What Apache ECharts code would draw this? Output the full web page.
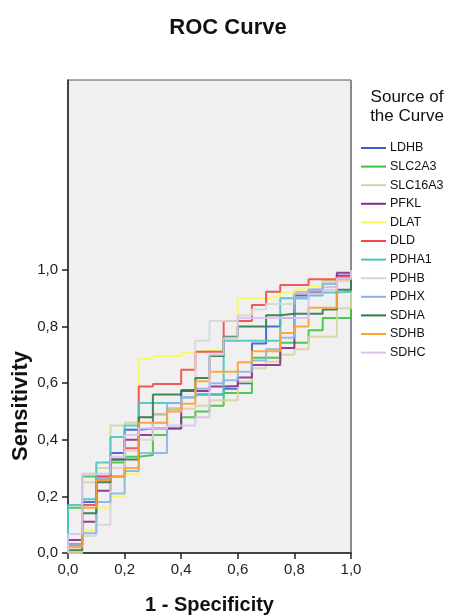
<!DOCTYPE html>
<html>
<head>
<meta charset="utf-8">
<script src="https://cdn.jsdelivr.net/npm/echarts@6/dist/echarts.min.js"></script>
<style>
  html, body { margin: 0; padding: 0; background: #fff; }
  #chart { width: 456px; height: 615px; }
</style>
</head>
<body>
<div id="chart"></div>
<script>
// False-positive-rate breakpoints: the curve holds each sensitivity level
// over one interval [FPR[k], FPR[k+1]].
const FPR = [0, 0.05, 0.10, 0.15, 0.20, 0.25, 0.30, 0.35, 0.40, 0.45,
             0.50, 0.55, 0.60, 0.65, 0.70, 0.75, 0.80, 0.85, 0.90, 0.95, 1.0];

// Sensitivity held on each FPR interval, per marker
const LDHB    = [0.03, 0.18, 0.26, 0.353, 0.435, 0.44, 0.49, 0.51, 0.55, 0.56, 0.56, 0.58, 0.60, 0.74, 0.80, 0.83, 0.91, 0.93, 0.96, 0.98];
const SLC2A3  = [0.16, 0.27, 0.27, 0.32, 0.34, 0.346, 0.417, 0.44, 0.48, 0.50, 0.52, 0.565, 0.565, 0.69, 0.69, 0.743, 0.743, 0.787, 0.83, 0.83];
const SLC16A3 = [0.00, 0.25, 0.30, 0.45, 0.46, 0.48, 0.49, 0.51, 0.51, 0.52, 0.54, 0.54, 0.605, 0.653, 0.676, 0.70, 0.72, 0.764, 0.764, 0.865];
const PFKL    = [0.046, 0.11, 0.22, 0.33, 0.40, 0.417, 0.44, 0.44, 0.572, 0.572, 0.588, 0.59, 0.62, 0.664, 0.664, 0.724, 0.92, 0.92, 0.94, 0.99];
const DLAT    = [0.01, 0.08, 0.16, 0.20, 0.28, 0.686, 0.696, 0.696, 0.708, 0.715, 0.72, 0.756, 0.90, 0.90, 0.905, 0.92, 0.93, 0.943, 0.96, 0.97];
const DLD     = [0.03, 0.17, 0.27, 0.27, 0.37, 0.588, 0.597, 0.597, 0.647, 0.711, 0.711, 0.82, 0.82, 0.876, 0.923, 0.947, 0.947, 0.967, 0.967, 0.975];
const PDHA1   = [0.17, 0.19, 0.32, 0.41, 0.45, 0.53, 0.53, 0.53, 0.55, 0.56, 0.56, 0.75, 0.75, 0.75, 0.75, 0.90, 0.90, 0.91, 0.92, 0.923];
const PDHB    = [0.02, 0.06, 0.10, 0.30, 0.36, 0.40, 0.46, 0.50, 0.55, 0.75, 0.82, 0.82, 0.84, 0.86, 0.88, 0.88, 0.92, 0.93, 0.94, 0.96];
const PDHX    = [0.03, 0.07, 0.18, 0.21, 0.29, 0.353, 0.353, 0.53, 0.55, 0.58, 0.60, 0.61, 0.64, 0.68, 0.72, 0.76, 0.90, 0.93, 0.95, 0.97];
const SDHA    = [0.01, 0.14, 0.25, 0.33, 0.33, 0.48, 0.56, 0.56, 0.576, 0.618, 0.696, 0.764, 0.80, 0.80, 0.84, 0.845, 0.845, 0.845, 0.86, 0.93];
const SDHB    = [0.02, 0.16, 0.258, 0.27, 0.30, 0.46, 0.46, 0.50, 0.527, 0.607, 0.64, 0.64, 0.674, 0.713, 0.713, 0.777, 0.80, 0.866, 0.866, 0.967];
const SDHC    = [0.067, 0.28, 0.28, 0.34, 0.417, 0.44, 0.44, 0.45, 0.45, 0.48, 0.70, 0.76, 0.83, 0.83, 0.83, 0.83, 0.83, 0.917, 0.93, 0.97];

const NAMES  = ['LDHB', 'SLC2A3', 'SLC16A3', 'PFKL', 'DLAT', 'DLD', 'PDHA1', 'PDHB', 'PDHX', 'SDHA', 'SDHB', 'SDHC'];
const LEVELS = [LDHB, SLC2A3, SLC16A3, PFKL, DLAT, DLD, PDHA1, PDHB, PDHX, SDHA, SDHB, SDHC];
const COLORS = ['#3c5dc4', '#3cc43c', '#d8d2a2', '#8b2a8b', '#f8f85c', '#f04848',
                '#44c8c0', '#d6d6d6', '#88b4e4', '#2f7a4a', '#ffa030', '#dcc0f4'];

const Y_TICKS = [0, 0.2, 0.4, 0.6, 0.8, 1.0];
const X_TICKS = [0, 0.2, 0.4, 0.6, 0.8, 1.0];

// Turn interval levels into the ROC staircase: (0,0) -> up -> across -> ... -> (1,1)
function staircase(levels) {
  const pts = [[0, 0]];
  for (let k = 0; k < levels.length; k++) {
    pts.push([FPR[k], levels[k]]);
    pts.push([FPR[k + 1], levels[k]]);
  }
  pts.push([1, 1]);
  return pts;
}

const fmt = v => v.toFixed(1).replace('.', ',');
const FONT = 'Liberation Sans, Arial, sans-serif';

const chart = echarts.init(document.getElementById('chart'));
chart.setOption({
  animation: false,
  backgroundColor: '#ffffff',
  title: {
    text: 'ROC Curve',
    left: 'center',
    top: 12,
    textStyle: { fontFamily: FONT, fontSize: 22, fontWeight: 'bold', color: '#111' }
  },
  grid: {
    left: 68, right: 105, top: 80, bottom: 62,
    outerBoundsMode: 'none',
    show: true,
    backgroundColor: '#f0f0f0',
    borderColor: '#555',
    borderWidth: 1
  },
  legend: {
    orient: 'vertical',
    left: 356,
    top: 136,
    itemWidth: 25,
    itemHeight: 2,
    itemGap: 4.6,
    icon: 'rect',
    data: NAMES,
    textStyle: { fontFamily: FONT, fontSize: 12.5, color: '#111', lineHeight: 14, padding: [0, 0, 0, -1] }
  },
  graphic: [
    {
      type: 'text',
      x: 407, y: 88,
      style: { text: 'Source of\nthe Curve', fontFamily: FONT, fontSize: 17, fill: '#111', lineHeight: 19, align: 'center' }
    },
    {
      type: 'text',
      x: 21, y: 406,
      rotation: Math.PI / 2,
      style: { text: 'Sensitivity', fontFamily: FONT, fontSize: 22, fontWeight: 'bold', fill: '#111',
               align: 'center', verticalAlign: 'middle' }
    },
    {
      type: 'rect',
      shape: { x: 350, y: 80, width: 2, height: 473 },
      style: { fill: '#8a8a8a' }
    }
  ],
  xAxis: {
    type: 'value',
    min: 0, max: 1,
    name: '1 - Specificity',
    nameLocation: 'middle',
    nameGap: 42,
    nameTextStyle: { fontFamily: FONT, fontSize: 20, fontWeight: 'bold', color: '#111' },
    axisLine: { show: true, lineStyle: { color: '#222', width: 1.5 } },
    axisTick: { show: true, length: 6, lineStyle: { color: '#222', width: 1.5 }, customValues: X_TICKS },
    axisLabel: { fontFamily: FONT, fontSize: 15, color: '#222', margin: 9, formatter: fmt, customValues: X_TICKS },
    splitLine: { show: false }
  },
  yAxis: {
    type: 'value',
    min: 0, max: 1.671,
    axisLine: { show: true, lineStyle: { color: '#222', width: 1.5 } },
    axisTick: { show: true, length: 6, lineStyle: { color: '#222', width: 1.5 }, customValues: Y_TICKS },
    axisLabel: { fontFamily: FONT, fontSize: 15, color: '#222', margin: 10, formatter: fmt, customValues: Y_TICKS },
    splitLine: { show: false }
  },
  series: NAMES.map((name, i) => ({
    name: name,
    type: 'line',
    data: staircase(LEVELS[i]),
    showSymbol: false,
    symbol: 'none',
    color: COLORS[i],
    lineStyle: { width: 2, color: COLORS[i], opacity: 0.9 },
    emphasis: { disabled: true }
  }))
});
</script>
</body>
</html>
